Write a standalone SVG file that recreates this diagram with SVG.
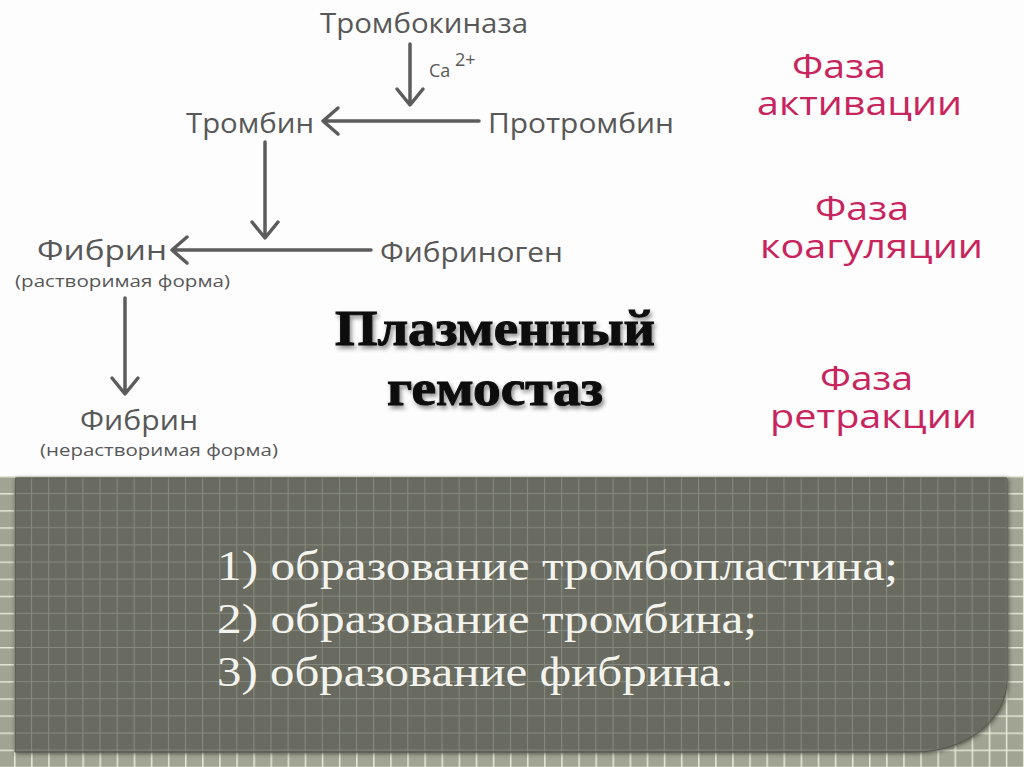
<svg xmlns="http://www.w3.org/2000/svg" width="1024" height="767" viewBox="0 0 1024 767">
<defs>
<style>
.g{font-family:"Open Sans","Noto Sans","Liberation Sans",sans-serif;fill:#585858}
.p{font-family:"Open Sans","Noto Sans","Liberation Sans",sans-serif;fill:#c8255e;font-size:32px}
.t{font-family:"Liberation Serif","DejaVu Serif",serif;font-weight:bold;fill:#0a0a0a;stroke:#0a0a0a;stroke-width:1;font-size:50px}
.l{font-family:"Liberation Serif","DejaVu Serif",serif;fill:#f4f4ee;font-size:42px}
.c{fill:none;stroke:#5c5c5c;stroke-width:3.5;stroke-linecap:round;stroke-linejoin:round}
</style>
<pattern id="outer" patternUnits="userSpaceOnUse" x="14" y="476" width="17.1" height="17.1">
<rect width="17.1" height="17.1" fill="#a1a493"/>
<path d="M0.75,0 V17.1 M0,0.75 H17.1" stroke="#e6e8d8" stroke-width="1.5"/>
</pattern>
<pattern id="inner" patternUnits="userSpaceOnUse" x="14" y="476" width="17.1" height="17.1">
<rect width="17.1" height="17.1" fill="#696b61"/>
<path d="M0.5,0 V17.1 M0,0.5 H17.1" stroke="#878a7e" stroke-width="1"/>
</pattern>
<filter id="sh" x="-10%" y="-20%" width="130%" height="150%">
<feGaussianBlur in="SourceAlpha" stdDeviation="2"/>
<feOffset dx="2" dy="3" result="b"/>
<feFlood flood-color="#000" flood-opacity="0.45"/>
<feComposite in2="b" operator="in"/>
<feMerge><feMergeNode/><feMergeNode in="SourceGraphic"/></feMerge>
</filter>
<filter id="psh" x="-5%" y="-5%" width="110%" height="115%">
<feGaussianBlur in="SourceAlpha" stdDeviation="2"/>
<feOffset dx="1" dy="1" result="b"/>
<feFlood flood-color="#2a2a25" flood-opacity="0.7"/>
<feComposite in2="b" operator="in"/>
<feMerge><feMergeNode/><feMergeNode in="SourceGraphic"/></feMerge>
</filter>
</defs>

<rect x="0" y="0" width="1024" height="767" fill="#fdfdfd"/>
<rect x="0" y="476" width="1024" height="291" fill="url(#outer)"/>
<path d="M15,478 H1007 V680 A92 72 0 0 1 915,752 H15 Z" fill="url(#inner)" stroke="#55574e" stroke-width="1" filter="url(#psh)"/>

<g id="connectors">
<path class="c" d="M410,44 V104 M397,89 L410,105 L423,89"/>
<path class="c" d="M479,121 H324 M338,108 L323,121 L338,134"/>
<path class="c" d="M265,142 V237 M252,222 L265,238 L278,222"/>
<path class="c" d="M371,250 H173 M187,237 L172,250 L187,263"/>
<path class="c" d="M125,298 V393 M112,378 L125,394 L138,378"/>
</g>

<g id="n-trombokinaza"><text class="g" x="320" y="33" font-size="28" textLength="208" lengthAdjust="spacingAndGlyphs">Тромбокиназа</text></g>
<g id="n-ca"><text class="g" x="429" y="77" font-size="18">Ca</text><text class="g" x="455" y="66" font-size="18">2+</text></g>
<g id="n-trombin"><text class="g" x="186" y="133" font-size="28" textLength="128" lengthAdjust="spacingAndGlyphs">Тромбин</text></g>
<g id="n-protrombin"><text class="g" x="488" y="133" font-size="28" textLength="186" lengthAdjust="spacingAndGlyphs">Протромбин</text></g>
<g id="n-fibrin1"><text class="g" x="37" y="260" font-size="28" textLength="130" lengthAdjust="spacingAndGlyphs">Фибрин</text>
<text class="g" x="15" y="287" font-size="17" textLength="215" lengthAdjust="spacingAndGlyphs">(растворимая форма)</text></g>
<g id="n-fibrinogen"><text class="g" x="380" y="262" font-size="28" textLength="183" lengthAdjust="spacingAndGlyphs">Фибриноген</text></g>
<g id="n-fibrin2"><text class="g" x="80" y="430" font-size="28" textLength="118" lengthAdjust="spacingAndGlyphs">Фибрин</text>
<text class="g" x="40" y="456" font-size="17" textLength="238" lengthAdjust="spacingAndGlyphs">(нерастворимая форма)</text></g>

<g id="title" filter="url(#sh)">
<text class="t" x="335" y="345" textLength="320" lengthAdjust="spacingAndGlyphs">Плазменный</text>
<text class="t" x="387" y="405" textLength="216" lengthAdjust="spacingAndGlyphs">гемостаз</text>
</g>

<g id="phase1"><text class="p" x="792" y="78" textLength="94" lengthAdjust="spacingAndGlyphs">Фаза</text>
<text class="p" x="757" y="115" textLength="205" lengthAdjust="spacingAndGlyphs">активации</text></g>
<g id="phase2"><text class="p" x="815" y="220" textLength="94" lengthAdjust="spacingAndGlyphs">Фаза</text>
<text class="p" x="760" y="258" textLength="223" lengthAdjust="spacingAndGlyphs">коагуляции</text></g>
<g id="phase3"><text class="p" x="820" y="390" textLength="93" lengthAdjust="spacingAndGlyphs">Фаза</text>
<text class="p" x="770" y="428" textLength="207" lengthAdjust="spacingAndGlyphs">ретракции</text></g>

<g id="list">
<text class="l" x="217" y="580" textLength="681" lengthAdjust="spacingAndGlyphs">1) образование тромбопластина;</text>
<text class="l" x="217" y="633" textLength="540" lengthAdjust="spacingAndGlyphs">2) образование тромбина;</text>
<text class="l" x="217" y="686" textLength="516" lengthAdjust="spacingAndGlyphs">3) образование фибрина.</text>
</g>
</svg>
